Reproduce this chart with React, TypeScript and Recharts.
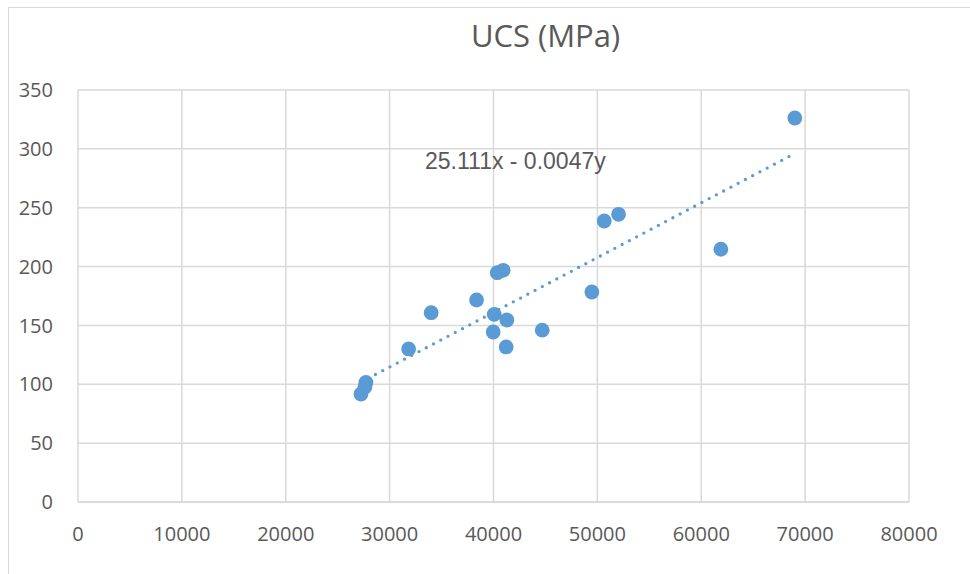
import { CartesianGrid, Scatter, ScatterChart, XAxis, YAxis } from 'recharts'

const pointX = [27240, 27620, 27720, 31830, 34000, 38370, 40360, 40930, 40070, 39970, 41290, 41220, 44690, 49470, 50660, 52040, 61890, 69010]
const pointY = [91.7, 97.7, 101.5, 130, 160.8, 171.6, 194.8, 196.8, 159.4, 144.4, 154.6, 131.7, 146, 178.4, 238.7, 244.4, 214.7, 326.2]

// trendline ends
const trendX = [27240, 69010]
const trendY = [101.8, 296.1]

const xTicks = [0, 10000, 20000, 30000, 40000, 50000, 60000, 70000, 80000]
const yTicks = [0, 50, 100, 150, 200, 250, 300, 350]

const TITLE = 'UCS (MPa)'
const EQUATION = '25.111x - 0.0047y'

const points = pointX.map((x, i) => ({ x, y: pointY[i] }))
const trend = trendX.map((x, i) => ({ x, y: trendY[i] }))

const BLUE = '#5b9bd5'
const GRID = '#d9d9d9'
const TEXT = '#595959'
const tickStyle = { fill: TEXT, fontSize: 20, fontFamily: '"Open Sans", sans-serif' }

const Dot = (props: any) => <circle cx={props.cx} cy={props.cy} r={7.4} fill={BLUE} />

export default function App() {
  return (
    <div
      style={{
        position: 'absolute',
        left: 8,
        top: 7,
        width: 961,
        height: 566,
        borderLeft: `1px solid ${GRID}`,
        borderTop: `1px solid ${GRID}`,
        background: '#fff',
      }}
    >
      <div
        style={{
          position: 'absolute',
          left: 336.5,
          top: 11.6,
          width: 400,
          textAlign: 'center',
          fontFamily: '"Open Sans", sans-serif',
          fontSize: 31,
          lineHeight: 1,
          color: TEXT,
        }}
      >
        {TITLE}
      </div>
      <ScatterChart width={961} height={566} margin={{ top: 82, right: 61, bottom: 32, left: 0 }}>
        <CartesianGrid stroke={GRID} strokeWidth={1.5} />
        <XAxis
          type="number"
          dataKey="x"
          domain={[0, 80000]}
          ticks={xTicks}
          height={40}
          tickLine={false}
          tickSize={0}
          tickMargin={25}
          axisLine={{ stroke: GRID, strokeWidth: 1.5 }}
          tick={tickStyle}
          interval={0}
        />
        <YAxis
          type="number"
          dataKey="y"
          domain={[0, 350]}
          ticks={yTicks}
          width={69}
          tickLine={false}
          tickSize={0}
          tickMargin={25}
          axisLine={false}
          tick={tickStyle}
          interval={0}
        />
        <Scatter
          data={trend}
          fill="none"
          line={{ stroke: BLUE, strokeWidth: 3.3, strokeDasharray: '0 8.2', strokeLinecap: 'round' }}
          shape={() => <g />}
          isAnimationActive={false}
        />
        <Scatter data={points} fill={BLUE} shape={Dot} isAnimationActive={false} />
      </ScatterChart>
      <div
        style={{
          position: 'absolute',
          left: 416,
          top: 141.5,
          fontFamily: '"Liberation Sans", Arial, sans-serif',
          fontSize: 23,
          lineHeight: 1,
          color: TEXT,
          whiteSpace: 'nowrap',
        }}
      >
        {EQUATION}
      </div>
    </div>
  )
}
